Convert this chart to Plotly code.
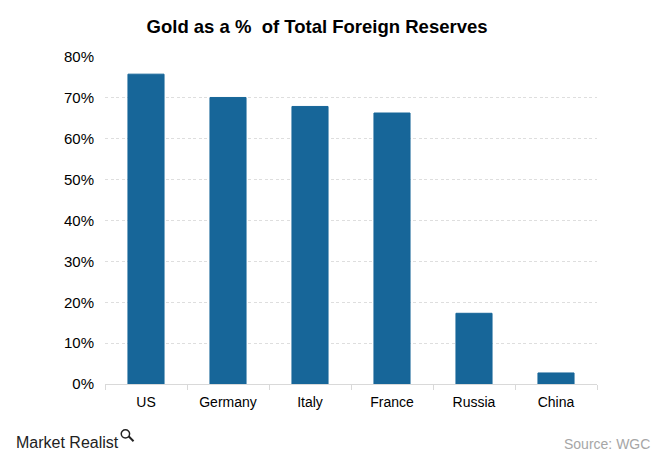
import plotly.graph_objects as go

countries = ["US", "Germany", "Italy", "France", "Russia", "China"]
gold_pct = [75.8, 70.1, 67.9, 66.3, 17.3, 2.7]
y_ticks = [0, 10, 20, 30, 40, 50, 60, 70, 80]
y_tick_labels = [f"{v}%" for v in y_ticks]

fig = go.Figure(go.Bar(
    x=countries, y=gold_pct,
    marker=dict(color="#176699", line=dict(color="#176699", width=1)),
))

fig.update_layout(
    width=652, height=463,
    margin=dict(l=97, r=63, t=49, b=87),
    paper_bgcolor="white", plot_bgcolor="white",
    font=dict(family="Liberation Sans, Arial, sans-serif", size=14, color="black"),
    bargap=0.56,
    showlegend=False,
    title=dict(text="<b>Gold as a %  of Total Foreign Reserves</b>",
               xref="paper", yref="container",
               x=0.431, xanchor="center", y=0.961, yanchor="middle",
               font=dict(size=18.5, color="black")),
    xaxis=dict(showline=True, linecolor="#d9d9d9", linewidth=1,
               ticks="outside", tickson="boundaries", ticklen=5, tickcolor="#d9d9d9",
               ticklabelstandoff=5,
               showgrid=False, tickfont=dict(size=14)),
    yaxis=dict(range=[0, 80], tickvals=y_ticks, ticktext=y_tick_labels,
               showgrid=True, gridcolor="#dedede", griddash="3px,2.5px", gridwidth=1,
               zeroline=False, showline=False, ticks="", ticklabelstandoff=10,
               tickfont=dict(size=15)),
    annotations=[
        dict(text="Market Realist", xref="paper", yref="paper",
             x=-0.185, y=-0.18, xanchor="left", yanchor="middle", showarrow=False,
             font=dict(size=16, color="#222222", family="Liberation Sans, Arial, sans-serif")),
        dict(text="Source: WGC", xref="paper", yref="paper",
             x=1.112, y=-0.183, xanchor="right", yanchor="middle", showarrow=False,
             font=dict(size=14, color="#a6a6a6")),
    ],
    shapes=[
        dict(type="circle", xref="paper", yref="paper",
             x0=0.033, x1=0.050, y0=-0.165, y1=-0.140,
             line=dict(color="#222222", width=1.5)),
        dict(type="line", xref="paper", yref="paper",
             x0=0.048, x1=0.058, y0=-0.160, y1=-0.175,
             line=dict(color="#222222", width=2)),
    ],
)

fig.write_html("out.html")
